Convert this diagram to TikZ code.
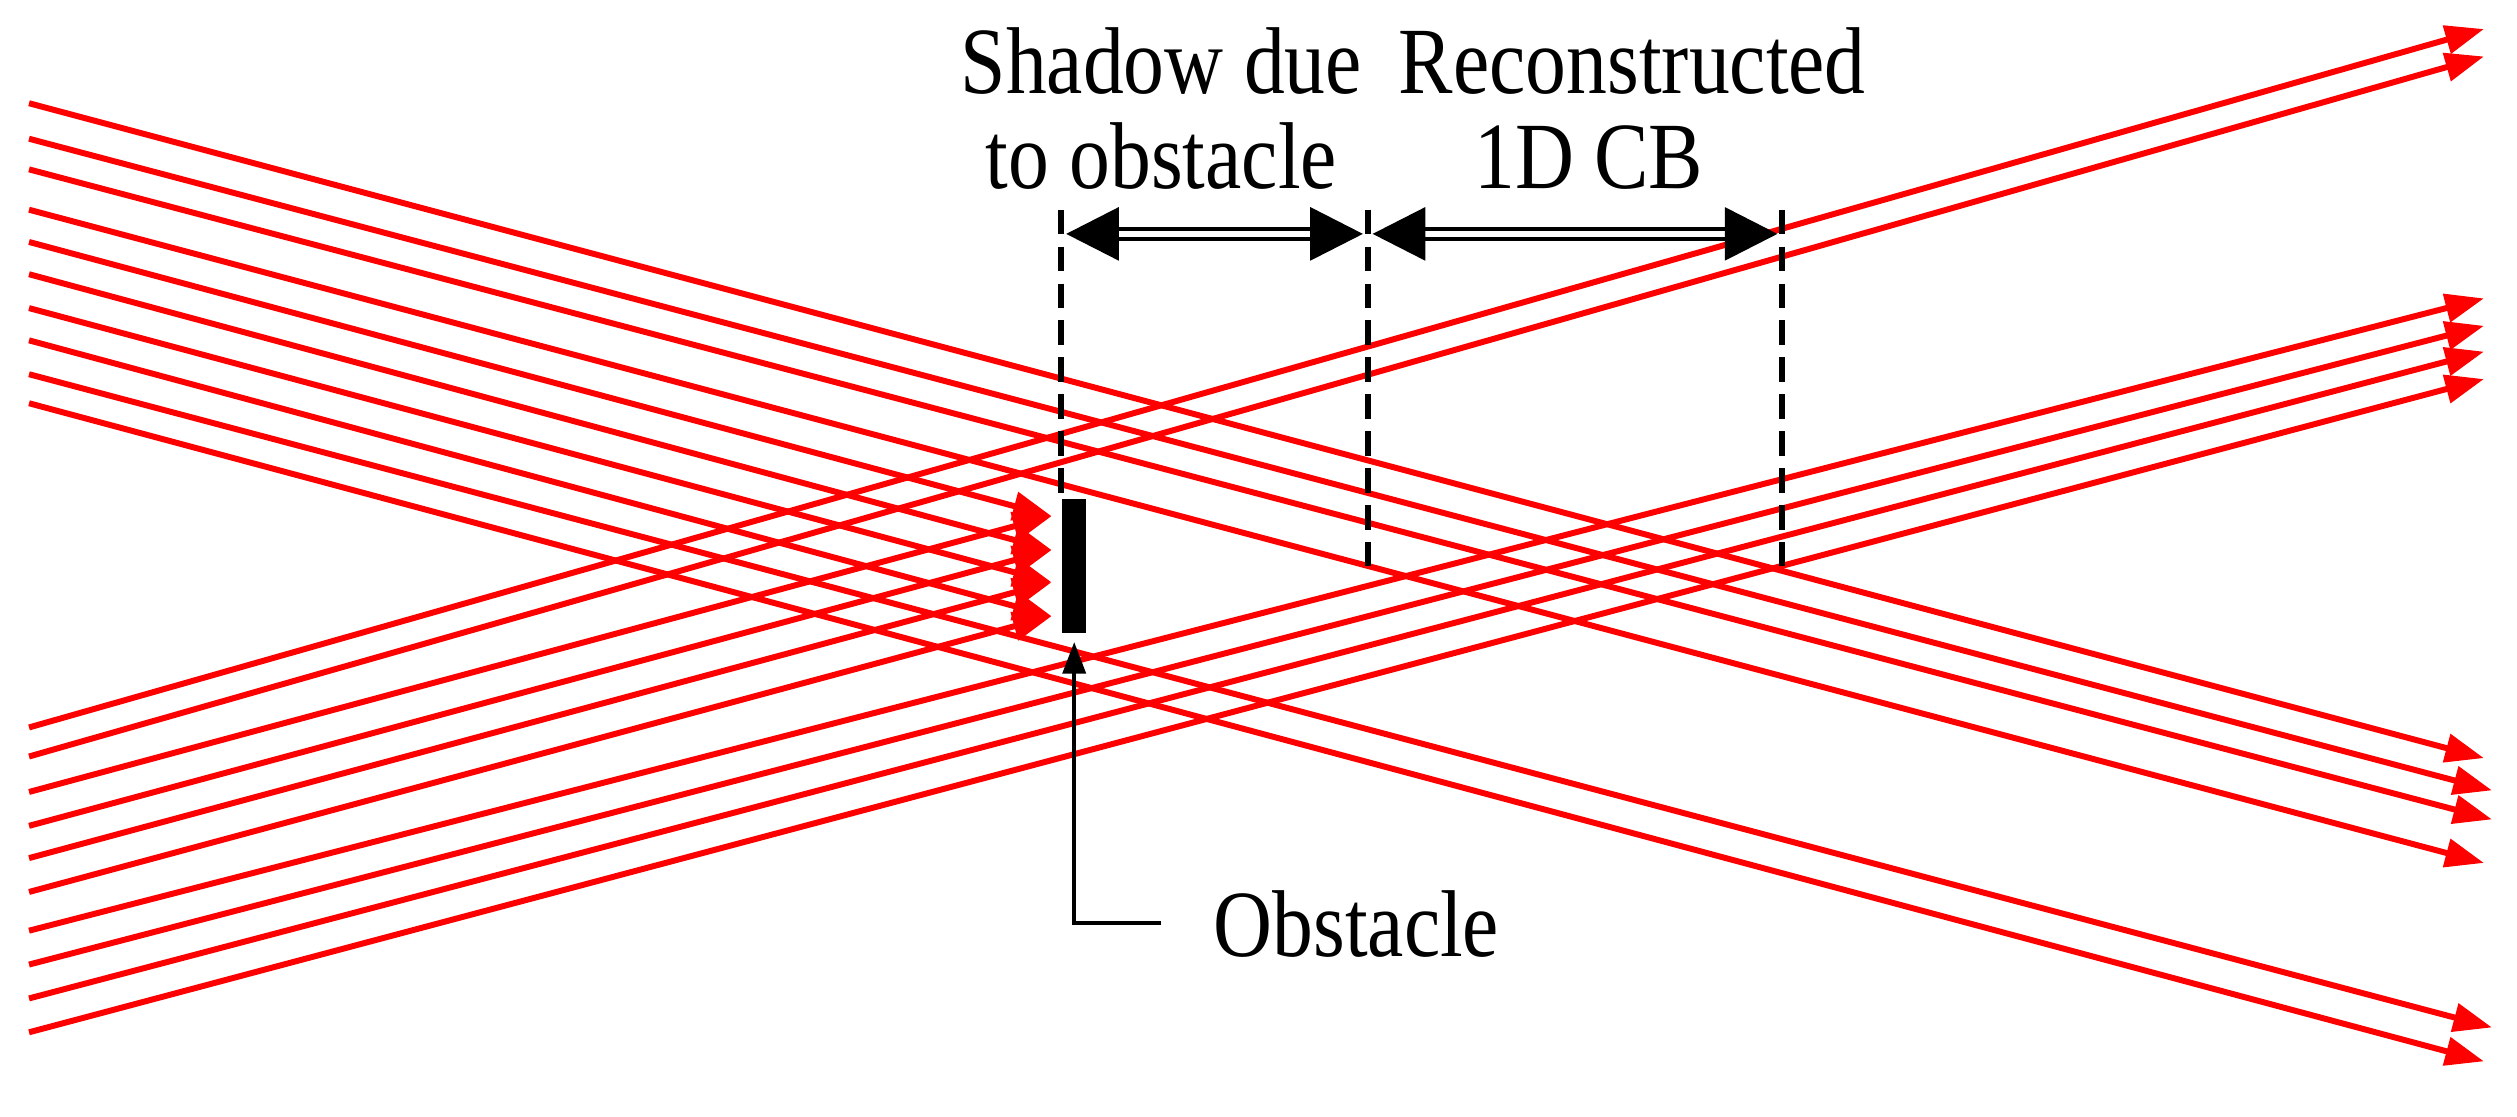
\documentclass[tikz,border=0pt]{standalone}
\usepackage{fontspec}
\setmainfont{Liberation Serif}
\usetikzlibrary{arrows.meta}
\begin{document}
\begin{tikzpicture}[x=0.01613cm,y=-0.01613cm,
  ray/.style={draw=red,line width=1.7pt},
  rayarr/.style={ray,-{Triangle[length=11pt,width=8pt]}},
  dashln/.style={draw=black,line width=1.7pt,dash pattern=on 7pt off 3.5pt},
  dim/.style={draw=black,line width=1.1pt,double=white,double distance=1.6pt,
    {Triangle[length=15pt,width=15pt]}-{Triangle[length=15pt,width=15pt]}},
  lab/.style={font=\fontsize{27}{28}\selectfont,inner sep=0pt,align=center}]
\useasboundingbox (0,0) rectangle (1560.5,692.5);
% rays passing to the right
\foreach \n/\ya/\xb/\yb in {a/64/1540/470,b/86/1545/490,c/105/1545/508,d/130/1540/535,
  e/232/1545/637,f/250/1540/658,g/451/1540/18,h/469/1540/35,
  i/577/1540/185,j/598/1540/202,k/619/1540/218,l/640/1540/235}{
  \coordinate (s\n) at (18,\ya);
  \coordinate (t\n) at (\xb,\yb);
  \draw[rayarr] (s\n) -- (t\n);
}
% rays hitting the obstacle
\foreach \n/\ya/\yb in {m/150/320,o/170/341,p/191/361,q/211/382,
  r/491/320,u/512/341,v/532/361,w/553/382}{
  \coordinate (s\n) at (18,\ya);
  \coordinate (t\n) at (652,\yb);
  \draw[rayarr] (s\n) -- (t\n);
}
% obstacle
\node[fill=black,inner sep=0pt,minimum width=0.24cm,minimum height=1.34cm,
  anchor=north west] (obs) at (658,309) {};
% dashed lines
\coordinate (d1t) at (658,130); \coordinate (d1b) at (658,310);
\coordinate (d2t) at (848,130); \coordinate (d2b) at (848,352);
\coordinate (d3t) at (1105,130); \coordinate (d3b) at (1105,355);
\draw[dashln] (d1t) -- (d1b);
\draw[dashln] (d2t) -- (d2b);
\draw[dashln] (d3t) -- (d3b);
% dimension arrows
\coordinate (a1) at (661,145); \coordinate (a2) at (845,145);
\coordinate (a3) at (851,145); \coordinate (a4) at (1102,145);
\draw[dim] (a1) -- (a2);
\draw[dim] (a3) -- (a4);
% labels
\node[lab,anchor=base] (sh1) at (720,58) {\scalebox{0.86}[1]{Shadow due}};
\node[lab,anchor=base] (sh2) at (720,117) {\scalebox{0.86}[1]{to obstacle}};
\node[lab,anchor=base] (re1) at (1012,58) {\scalebox{0.86}[1]{Reconstructed}};
\node[lab,anchor=base] (re2) at (985,117) {\scalebox{0.86}[1]{1D CB}};
\node[lab,anchor=base west] (ob) at (752,593) {\scalebox{0.86}[1]{Obstacle}};
% pointer
\coordinate (pc) at (666,572);
\coordinate (pe) at (720,572);
\coordinate (pt) at (666,398);
\draw[line width=1.2pt,-{Triangle[length=9pt,width=6.5pt]}] (pe) -- (pc) -- (pt);
\end{tikzpicture}
\end{document}
